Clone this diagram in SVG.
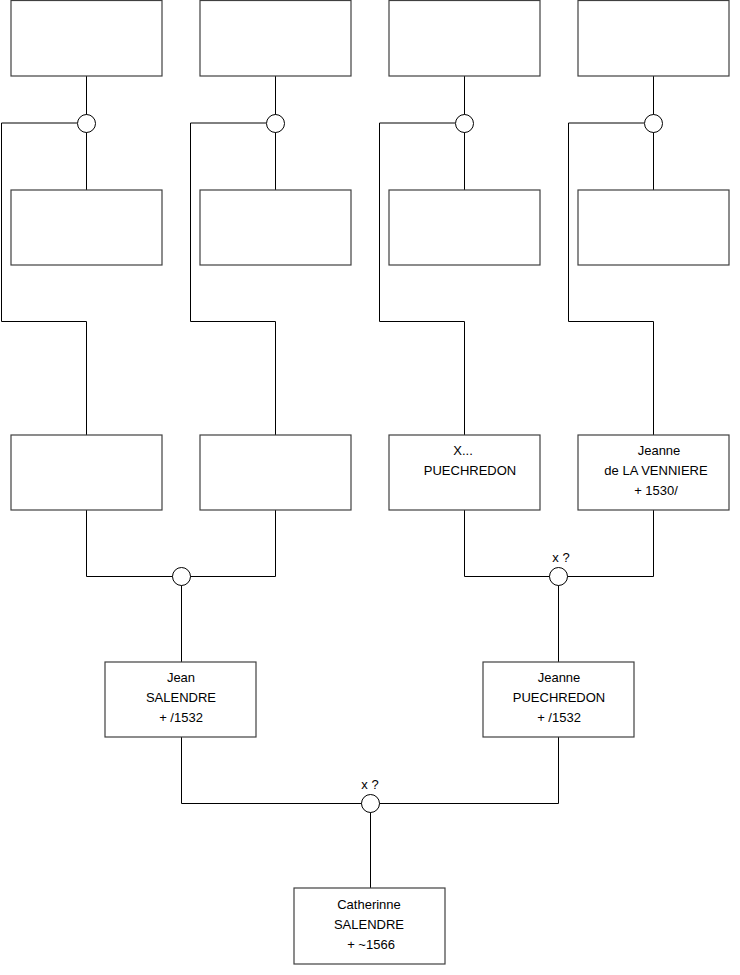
<svg xmlns="http://www.w3.org/2000/svg" width="740" height="975" viewBox="0 0 740 975">
<style>
.b{fill:#fff;stroke:#404040;stroke-width:1.2}
.c{fill:#fff;stroke:#000;stroke-width:1}
.l{fill:none;stroke:#000;stroke-width:1}
text{font-family:"Liberation Sans",Arial,sans-serif;font-size:13px;fill:#000;text-anchor:middle}
</style>
<rect width="740" height="975" fill="#fff"/>
<g id="connectors">
<path class="l" d="M86.5 76V190M275.5 76V190M464.5 76V190M653.5 76V190"/>
<path class="l" d="M77 123H1.5V321.5H86.5V435M266 123H190.5V321.5H275.5V435M455 123H379.5V321.5H464.5V435M644 123H568.5V321.5H653.5V435"/>
<path class="l" d="M86.5 510V576.5H275.5V510M464.5 510V576.5H653.5V510"/>
<path class="l" d="M181.5 576V662M558.5 576V662"/>
<path class="l" d="M181.5 737V803.5H558.5V737M370.5 803V888"/>
<circle class="c" cx="86.5" cy="123.5" r="9"/>
<circle class="c" cx="275.5" cy="123.5" r="9"/>
<circle class="c" cx="464.5" cy="123.5" r="9"/>
<circle class="c" cx="653.5" cy="123.5" r="9"/>
<circle class="c" cx="181.5" cy="576.5" r="9"/>
<circle class="c" cx="558.5" cy="576.5" r="9"/>
<circle class="c" cx="370.5" cy="803.5" r="9"/>
<text x="561" y="562">x ?</text>
<text x="370" y="789">x ?</text>
</g>
<g id="n1"><rect class="b" x="11" y="0.5" width="151" height="75.5"/></g>
<g id="n2"><rect class="b" x="200" y="0.5" width="151" height="75.5"/></g>
<g id="n3"><rect class="b" x="389" y="0.5" width="151" height="75.5"/></g>
<g id="n4"><rect class="b" x="578" y="0.5" width="151" height="75.5"/></g>
<g id="n5"><rect class="b" x="11" y="190" width="151" height="75"/></g>
<g id="n6"><rect class="b" x="200" y="190" width="151" height="75"/></g>
<g id="n7"><rect class="b" x="389" y="190" width="151" height="75"/></g>
<g id="n8"><rect class="b" x="578" y="190" width="151" height="75"/></g>
<g id="n9"><rect class="b" x="11" y="435" width="151" height="75"/></g>
<g id="n10"><rect class="b" x="200" y="435" width="151" height="75"/></g>
<g id="n11"><rect class="b" x="389" y="435" width="151" height="75"/>
<text x="463" y="455">X...</text><text x="470" y="475">PUECHREDON</text></g>
<g id="n12"><rect class="b" x="578" y="435" width="151" height="75"/>
<text x="659" y="455">Jeanne</text><text x="656" y="475">de LA VENNIERE</text><text x="656" y="495">+ 1530/</text></g>
<g id="n13"><rect class="b" x="105" y="662" width="151" height="75"/>
<text x="181" y="682">Jean</text><text x="181" y="702">SALENDRE</text><text x="181" y="722">+ /1532</text></g>
<g id="n14"><rect class="b" x="483" y="662" width="151" height="75"/>
<text x="559" y="682">Jeanne</text><text x="559" y="702">PUECHREDON</text><text x="559" y="722">+ /1532</text></g>
<g id="n15"><rect class="b" x="294" y="888" width="151" height="76"/>
<text x="369" y="909">Catherinne</text><text x="369" y="929">SALENDRE</text><text x="371" y="949">+ ~1566</text></g>
</svg>
